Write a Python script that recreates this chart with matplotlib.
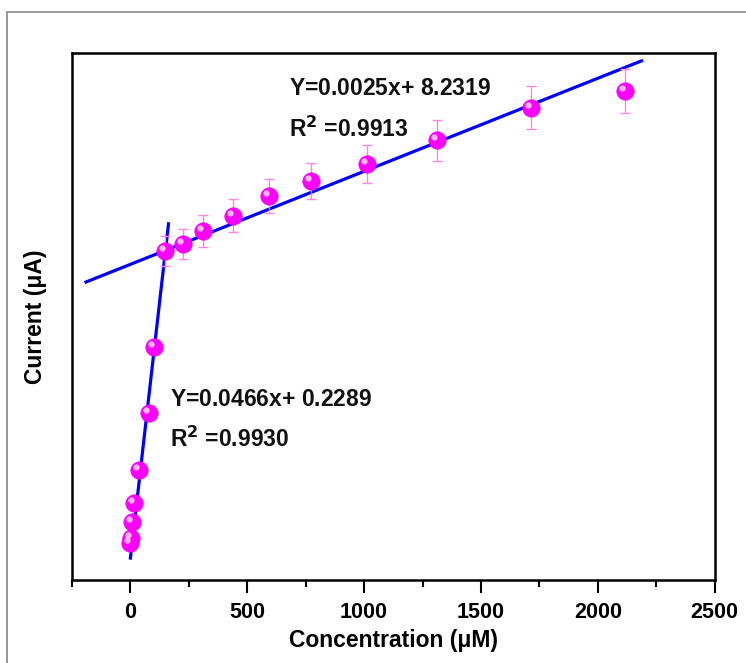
import matplotlib
matplotlib.use("Agg")
import matplotlib.pyplot as plt
import matplotlib.patches as patches
import matplotlib.transforms as mtransforms
import numpy as np

plt.rcParams['font.family'] = ['Liberation Sans', 'DejaVu Sans']

# concentration (uM) and current (uA)
conc = [0, 2, 6, 16, 37, 80, 101, 146, 223, 311, 440, 594, 773, 1013, 1313, 1715, 2118]
current = [0.74, 0.87, 1.31, 1.81, 2.70, 4.23, 6.00, 8.60, 8.77, 9.14, 9.54,
           10.07, 10.47, 10.92, 11.56, 12.44, 12.90]
err = [0.05, 0.05, 0.05, 0.06, 0.07, 0.08, 0.10, 0.40, 0.40, 0.43, 0.45,
       0.45, 0.48, 0.51, 0.54, 0.58, 0.59]

# fitted lines as drawn: slope, intercept, x range
fit_low = (0.0551, 0.34, [0, 163])
fit_high = (0.0025, 8.2319, [-190, 2187])
eq_low = ["Y=0.0466$\\mathregular{x}$+ 0.2289", "R$^{\\mathbf{2}}$ =0.9930"]
eq_high = ["Y=0.0025$\\mathregular{x}$+ 8.2319", "R$^{\\mathbf{2}}$ =0.9913"]

xticks = [0, 500, 1000, 1500, 2000, 2500]

fig = plt.figure(figsize=(7.46, 6.63), dpi=100)
ax = fig.add_axes([0.0965, 0.1252, 0.8615, 0.7948])

# gray frame around the figure
frame = patches.Rectangle((7 / 746, -0.2), 2, 1.2 - 12 / 663, transform=fig.transFigure,
                          fill=False, edgecolor='#888888', lw=1.2, clip_on=False)
fig.patches.append(frame)

for slope, icpt, xr in [fit_low, fit_high]:
    xs = np.array(xr, dtype=float)
    ax.plot(xs, slope * xs + icpt, color='#0000ff', lw=2.3, zorder=2)

ax.errorbar(conc, current, yerr=err, fmt='none', ecolor='#ff88dd', elinewidth=1,
            capsize=3.3, capthick=1, zorder=3)
ax.plot(conc, current, 'o', ms=12.5, color='#ff00ff', mec='#ee00ee', mew=0.5, zorder=4)
hl = mtransforms.offset_copy(ax.transData, fig=fig, x=-3, y=3, units='dots')
ax.plot(conc, current, 'o', ms=4.5, color='#ffd6ea', mew=0, alpha=0.85,
        transform=hl, zorder=5)

tfont = dict(fontsize=16.5, fontweight='bold', color='#111111')
ax.text(680, 12.97, eq_high[0], va='center', **tfont)
ax.text(680, 11.85, eq_high[1], va='center', **tfont)
ax.text(170, 4.61, eq_low[0], va='center', **tfont)
ax.text(170, 3.52, eq_low[1], va='center', **tfont)

ax.set_xlim(-250, 2500)
ax.set_ylim(-0.25, 13.91)
ax.set_xticks(xticks)
ax.set_xticks(np.arange(-250, 2501, 250), minor=True)
ax.set_yticks([])
ax.tick_params(axis='x', which='major', direction='out', length=9, width=1.5,
               labelsize=15.5, pad=7)
ax.tick_params(axis='x', which='minor', direction='out', length=5, width=1.5)
for lbl in ax.get_xticklabels():
    lbl.set_fontweight('bold')
for sp in ax.spines.values():
    sp.set_linewidth(1.8)

ax.set_xlabel("Concentration (μM)", fontsize=16.5, fontweight='bold', labelpad=4)
ax.set_ylabel("Current (μA)", fontsize=16.5, fontweight='bold', labelpad=18)

plt.savefig("out.png", dpi=100)
